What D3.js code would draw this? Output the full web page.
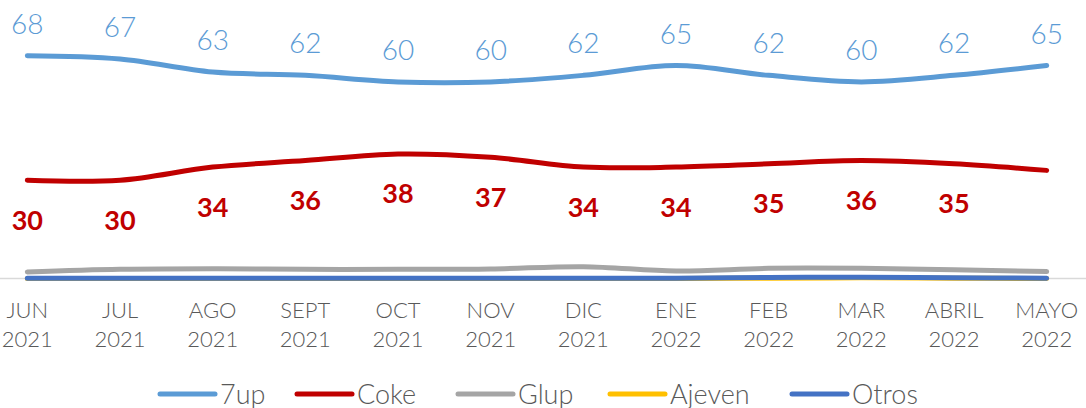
<!DOCTYPE html>
<html><head><meta charset="utf-8">
<script src="https://cdn.jsdelivr.net/npm/d3@7"></script>
<style>html,body{margin:0;padding:0;background:#fff;} svg{display:block;}</style>
</head><body>
<svg id="chart" width="1086" height="408"></svg>
<script>
const months = ["JUN","JUL","AGO","SEPT","OCT","NOV","DIC","ENE","FEB","MAR","ABRIL","MAYO"];
const years  = ["2021","2021","2021","2021","2021","2021","2021","2022","2022","2022","2022","2022"];
const sevenUp = [68,67,63,62,60,60,62,65,62,60,62,65];
const coke    = [30,30,34,36,38,37,34,34,35,36,35,33];
const cokeLabels = [30,30,34,36,38,37,34,34,35,36,35,null];
const glup    = [2,2.8,3,2.8,2.8,2.9,3.6,2.3,3.1,3.1,2.7,2.1];
const ajeven  = [0,0,0,0,0,0,0,0,0.1,0.2,0.1,0];
const otros   = [0.1,0.1,0.1,0.1,0.1,0.1,0.1,0.1,0.3,0.4,0.2,0.1];
const seriesNames = ["7up","Coke","Glup","Ajeven","Otros"];
const seriesColors = ["#5B9BD5","#C00000","#A5A5A5","#FFC000","#4472C4"];
const seriesData = [sevenUp, coke, glup, ajeven, otros];

const svg = d3.select("#chart");
const x = d3.scaleBand().domain(months).range([-19, 1093]);
const cx = m => x(m) + x.bandwidth()/2;
const y = d3.scaleLinear().domain([0, 68]).range([278.5, 55.7]);
const font = "Lato, 'Open Sans', sans-serif";

// axis baseline
svg.append("line").attr("x1",0).attr("x2",1086).attr("y1",y(0)).attr("y2",y(0))
  .attr("stroke","#D9D9D9").attr("stroke-width",1.5);

const line = d3.line().x((d,i)=>cx(months[i])).y(d=>y(d)).curve(d3.curveCatmullRom.alpha(0.5));

[2,3,4,1,0].forEach(k=>{
  svg.append("path").datum(seriesData[k]).attr("d",line)
    .attr("fill","none").attr("stroke",seriesColors[k]).attr("stroke-width",5)
    .attr("stroke-linecap","round").attr("stroke-linejoin","round");
});

// 7up labels
svg.selectAll("text.l7").data(sevenUp).enter().append("text")
  .attr("x",(d,i)=>cx(months[i])).attr("y",d=>y(d)-33)
  .attr("text-anchor","middle").attr("dominant-baseline","central")
  .attr("font-family",font).attr("font-size",28).attr("font-weight",300).attr("fill","#5B9BD5")
  .text(d=>d);

// coke labels
svg.selectAll("text.lc").data(cokeLabels).enter().filter(d=>d!==null).append("text")
  .attr("x",(d,i)=>cx(months[i])).attr("y",(d,i)=>y(coke[i])+39)
  .attr("text-anchor","middle").attr("dominant-baseline","central")
  .attr("font-family",font).attr("font-weight","bold").attr("font-size",27).attr("fill","#C00000")
  .text(d=>d);

// x tick labels
const xa = svg.append("g");
months.forEach((m,i)=>{
  const t = xa.append("text").attr("x",cx(m)).attr("text-anchor","middle")
    .attr("font-family",font).attr("font-size",22).attr("font-weight",300).attr("fill","#595959");
  t.append("tspan").attr("x",cx(m)).attr("y",318).text(m);
  t.append("tspan").attr("x",cx(m)).attr("y",347).text(years[i]);
});

// legend
const legX = [160,297,458,610,792];
const lg = svg.append("g");
seriesNames.forEach((n,i)=>{
  lg.append("line").attr("x1",legX[i]).attr("x2",legX[i]+55).attr("y1",394).attr("y2",394)
    .attr("stroke",seriesColors[i]).attr("stroke-width",5).attr("stroke-linecap","round");
  lg.append("text").attr("x",legX[i]+60).attr("y",393).attr("dominant-baseline","central")
    .attr("font-family",font).attr("font-size",27).attr("font-weight",300).attr("fill","#595959").text(n);
});
</script>
</body></html>
